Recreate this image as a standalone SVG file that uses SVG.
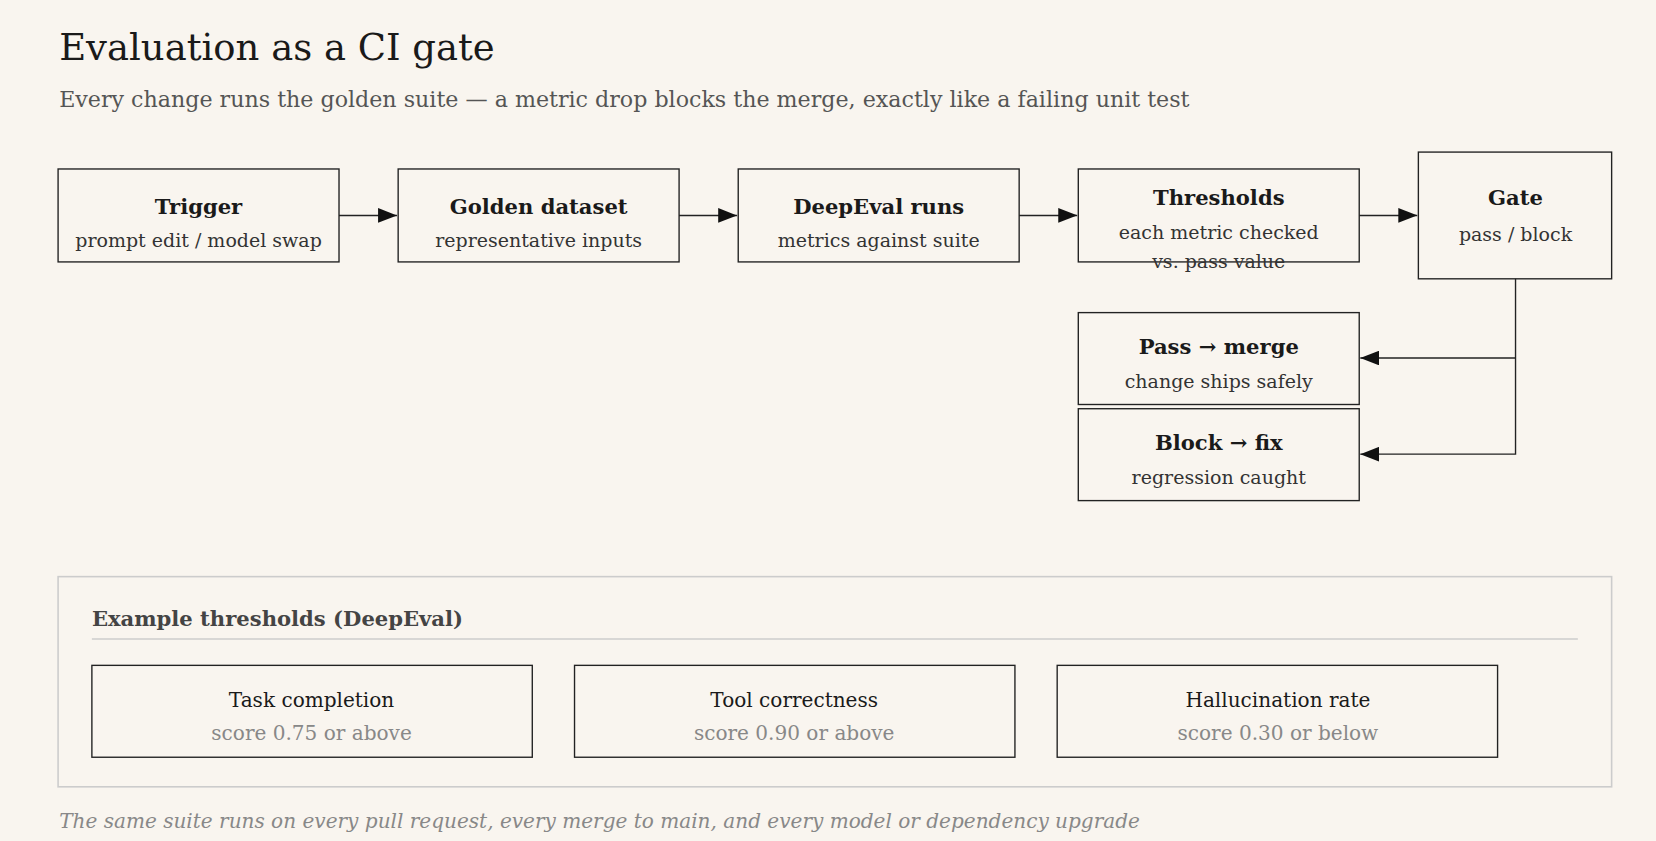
<svg xmlns="http://www.w3.org/2000/svg" width="1656" height="841" viewBox="0 0 1656 841">
<style>
text{font-family:"DejaVu Serif","Liberation Serif",serif;fill:#1a1a1a}
.n{fill:#fff;fill-opacity:0;stroke:#222;stroke-width:1.3}
.t{font-size:20px;font-weight:bold;text-anchor:middle}
.s{font-size:18px;text-anchor:middle;fill:#333}
.c{font-size:19px;text-anchor:middle}
.g{font-size:19px;text-anchor:middle;fill:#888}
.l{stroke:#222;stroke-width:1.3;fill:none}
</style>
<defs><marker id="a" viewBox="0 0 10 10" refX="10" refY="5" markerWidth="10" markerHeight="10" markerUnits="userSpaceOnUse" orient="auto"><path d="M0,0L10,5L0,10z" fill="#111"/></marker>
<marker id="b" viewBox="0 0 10 10" refX="10" refY="5" markerWidth="18" markerHeight="14" markerUnits="userSpaceOnUse" orient="auto" preserveAspectRatio="none"><path d="M0,0L10,5L0,10z" fill="#111"/></marker></defs>
<rect width="1656" height="841" fill="#f9f5ef"/>
<g transform="scale(1.05612)">
<text x="56" y="57" font-size="35">Evaluation as a CI gate</text>
<text x="56" y="101" font-size="21" style="fill:#555">Every change runs the golden suite — a metric drop blocks the merge, exactly like a failing unit test</text>
<g id="connectors">
<path class="l" d="M321,204H376" marker-end="url(#b)"/>
<path class="l" d="M643,204H698" marker-end="url(#b)"/>
<path class="l" d="M965,204H1020" marker-end="url(#b)"/>
<path class="l" d="M1287,204H1342" marker-end="url(#b)"/>
<path class="l" d="M1435,264V430H1288" marker-end="url(#b)"/>
<path class="l" d="M1435,339H1288" marker-end="url(#b)"/>
</g>
<g id="trigger"><rect class="n" x="55" y="160" width="266" height="88"/><text class="t" x="188" y="203">Trigger</text><text class="s" x="188" y="234">prompt edit / model swap</text></g>
<g id="golden"><rect class="n" x="377" y="160" width="266" height="88"/><text class="t" x="510" y="203">Golden dataset</text><text class="s" x="510" y="234">representative inputs</text></g>
<g id="deepeval"><rect class="n" x="699" y="160" width="266" height="88"/><text class="t" x="832" y="203">DeepEval runs</text><text class="s" x="832" y="234">metrics against suite</text></g>
<g id="thresholds"><rect class="n" x="1021" y="160" width="266" height="88"/><text class="t" x="1154" y="194">Thresholds</text><text class="s" x="1154" y="226">each metric checked</text><text class="s" x="1154" y="254">vs. pass value</text></g>
<g id="gate"><rect class="n" x="1343" y="144" width="183" height="120"/><text class="t" x="1435" y="194">Gate</text><text class="s" x="1435" y="228">pass / block</text></g>
<g id="pass"><rect class="n" x="1021" y="296" width="266" height="87"/><text class="t" x="1154" y="335">Pass → merge</text><text class="s" x="1154" y="367">change ships safely</text></g>
<g id="block"><rect class="n" x="1021" y="387" width="266" height="87"/><text class="t" x="1154" y="426">Block → fix</text><text class="s" x="1154" y="458">regression caught</text></g>
<g id="panel">
<rect x="55" y="546" width="1471" height="199" fill="none" stroke="#ccc" stroke-width="1.5"/>
<text x="87" y="593" font-size="20" font-weight="bold" style="fill:#444">Example thresholds (DeepEval)</text>
<path d="M87,605H1494" stroke="#ccc" stroke-width="1.3"/>
</g>
<g id="task"><rect class="n" x="87" y="630" width="417" height="87"/><text class="c" x="295" y="669">Task completion</text><text class="g" x="295" y="701">score 0.75 or above</text></g>
<g id="tool"><rect class="n" x="544" y="630" width="417" height="87"/><text class="c" x="752" y="669">Tool correctness</text><text class="g" x="752" y="701">score 0.90 or above</text></g>
<g id="halluc"><rect class="n" x="1001" y="630" width="417" height="87"/><text class="c" x="1210" y="669">Hallucination rate</text><text class="g" x="1210" y="701">score 0.30 or below</text></g>
<text x="56" y="784" font-size="19" font-style="italic" style="fill:#888">The same suite runs on every pull request, every merge to main, and every model or dependency upgrade</text>
</g>
</svg>
